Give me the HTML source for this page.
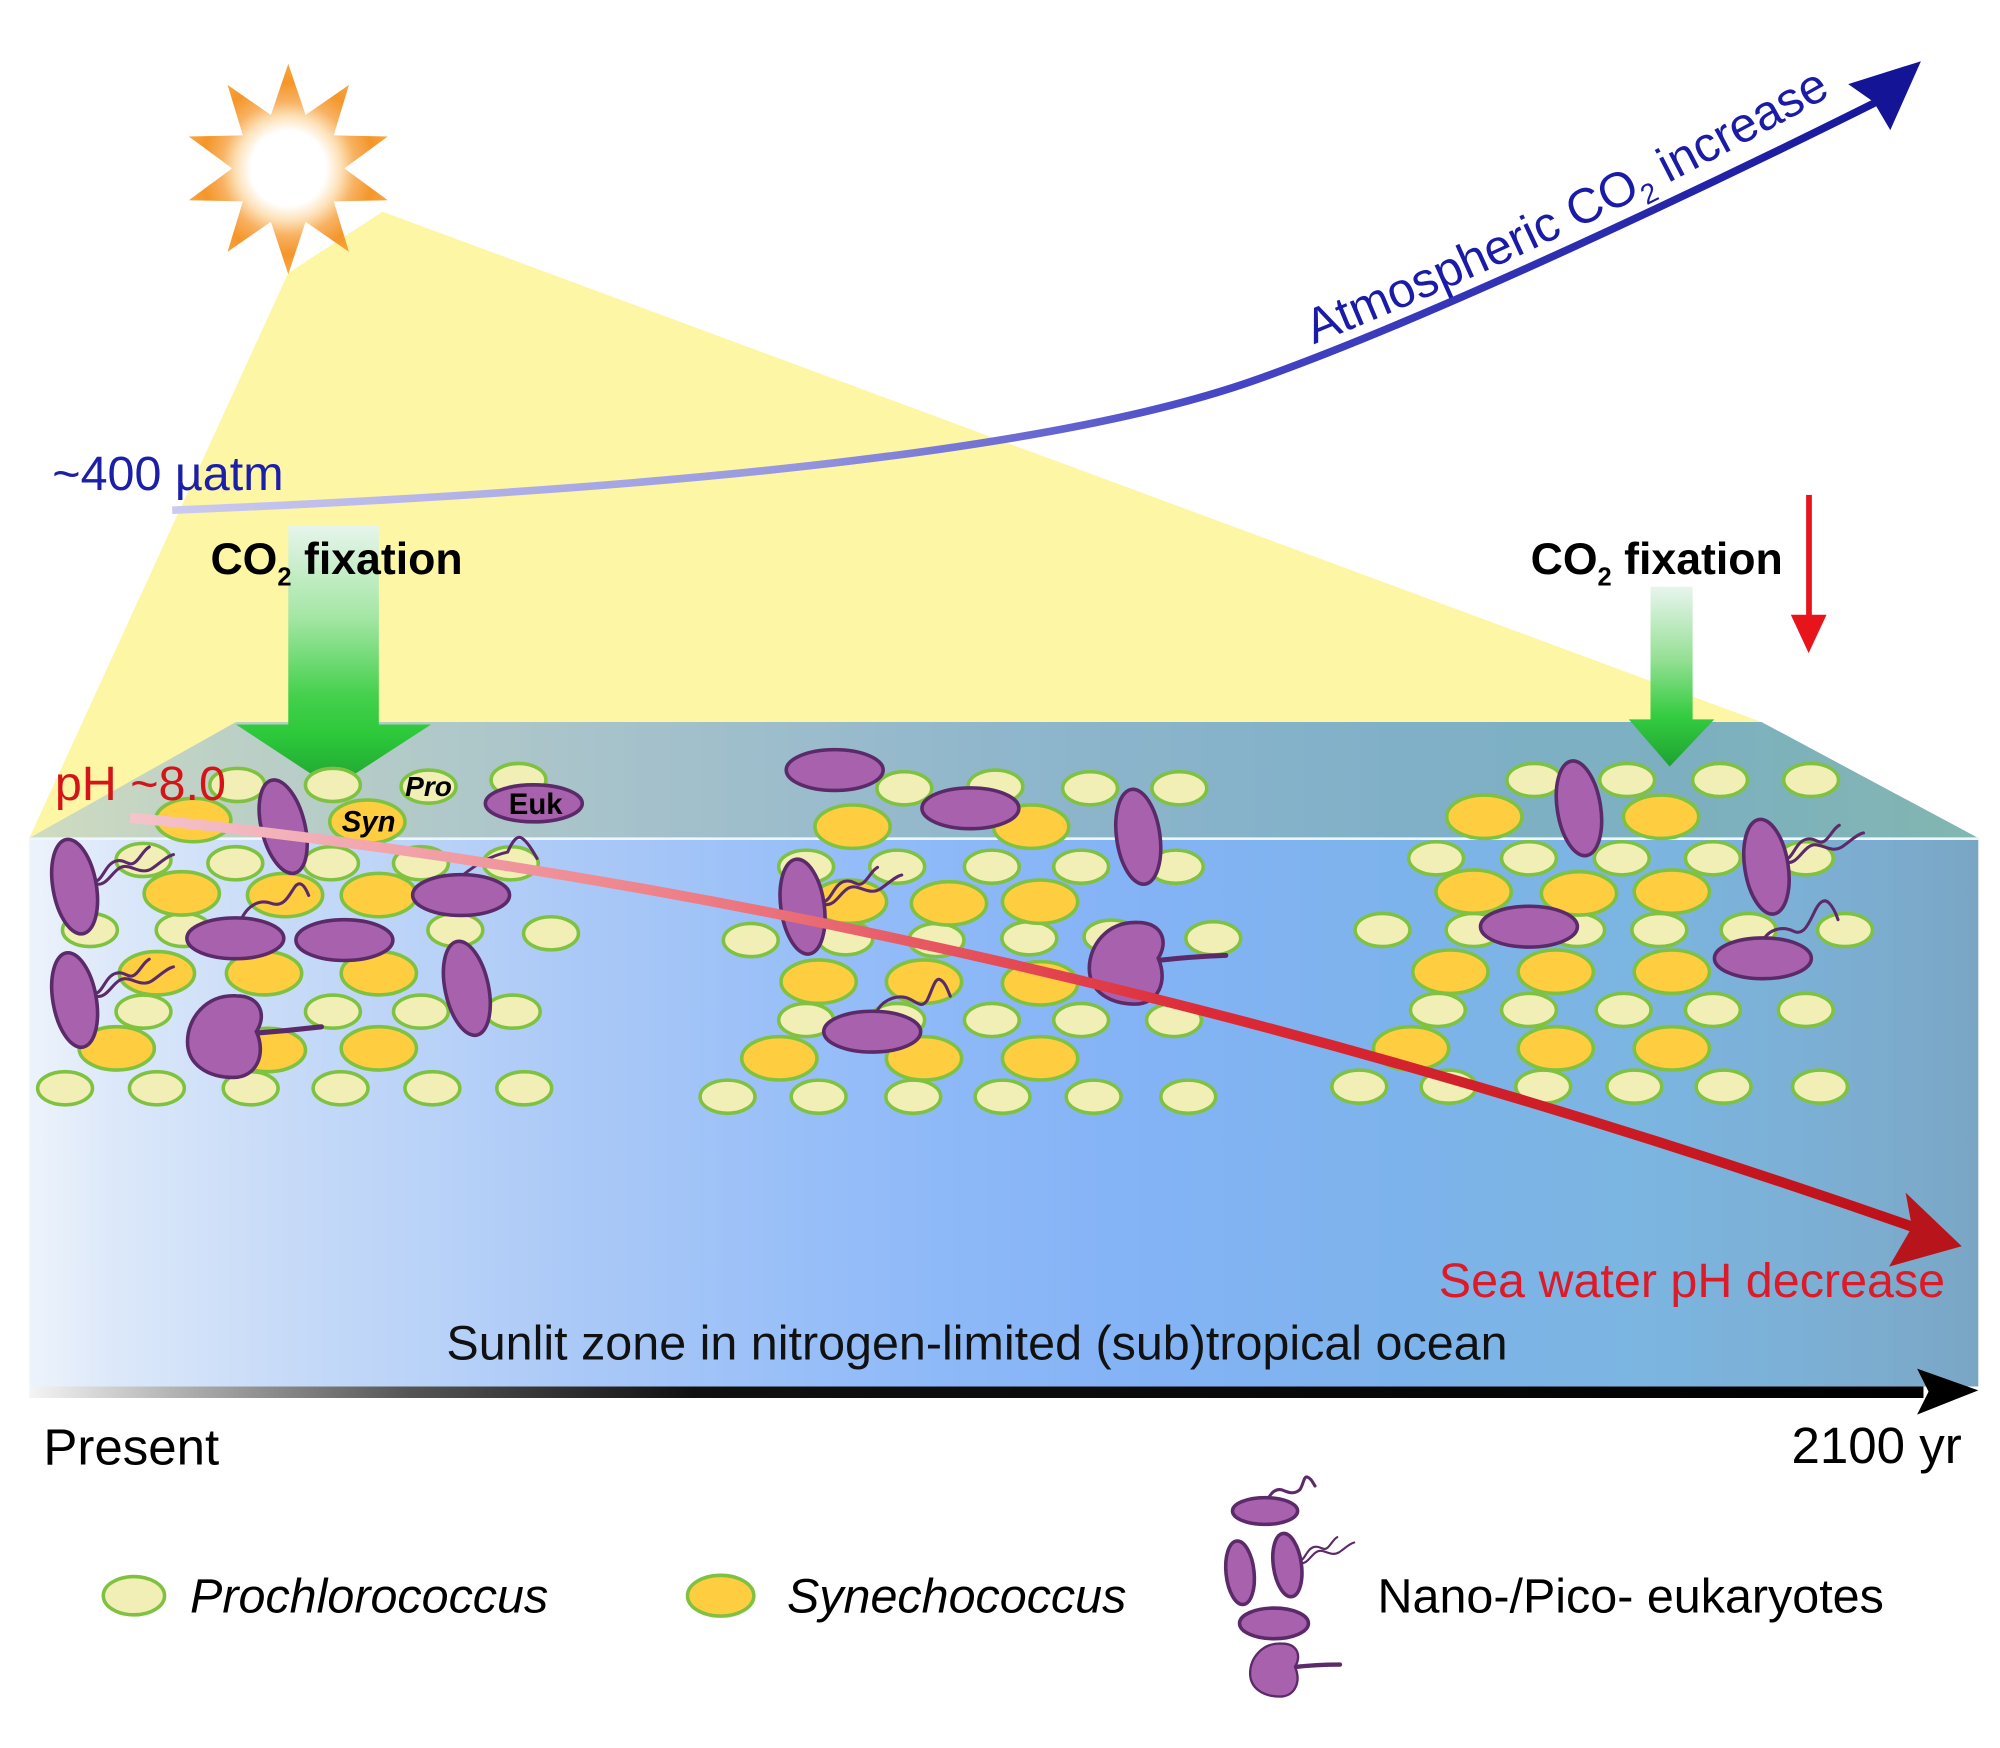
<!DOCTYPE html>
<html><head><meta charset="utf-8"><style>
html,body{margin:0;padding:0;background:#fff;}
svg{display:block;}
text{font-family:"Liberation Sans",Arial,sans-serif;}
.p{fill:#f1eeb6;stroke:#7fc241;stroke-width:2.8}
.s{fill:#fecd40;stroke:#7fc241;stroke-width:2.8}
.e{fill:#a761ad;stroke:#5b2a69;stroke-width:2.8}
.f{fill:none;stroke:#5b2a69;stroke-width:2.4;stroke-linecap:round}
</style></head><body>
<svg width="2000" height="1748" viewBox="0 0 1568 1370.4" preserveAspectRatio="none" xmlns="http://www.w3.org/2000/svg" xmlns:xlink="http://www.w3.org/1999/xlink">
<defs>
<radialGradient id="sun" cx="226" cy="132" r="82" gradientUnits="userSpaceOnUse">
<stop offset="0" stop-color="#ffffff"/><stop offset="0.36" stop-color="#ffffff"/><stop offset="0.5" stop-color="#fde1b8"/><stop offset="0.64" stop-color="#f8b262"/><stop offset="0.82" stop-color="#f4962a"/><stop offset="1" stop-color="#f7a640"/>
</radialGradient>
<linearGradient id="top" x1="23" y1="0" x2="1551" y2="0" gradientUnits="userSpaceOnUse">
<stop offset="0" stop-color="#d0dcc0"/><stop offset="0.1" stop-color="#bcd0c6"/><stop offset="0.3" stop-color="#a6c2cb"/><stop offset="0.5" stop-color="#8fb6cc"/><stop offset="0.7" stop-color="#80b0c8"/><stop offset="0.85" stop-color="#7cb0c0"/><stop offset="1" stop-color="#82b6b0"/>
</linearGradient>
<linearGradient id="front" x1="23" y1="0" x2="1551" y2="0" gradientUnits="userSpaceOnUse">
<stop offset="0" stop-color="#edf3fb"/><stop offset="0.04" stop-color="#dde9fa"/><stop offset="0.12" stop-color="#c9dcf8"/><stop offset="0.29" stop-color="#a9c8f7"/><stop offset="0.45" stop-color="#90baf8"/><stop offset="0.56" stop-color="#84b3f6"/><stop offset="0.7" stop-color="#7db3ec"/><stop offset="0.83" stop-color="#7bb5e0"/><stop offset="0.93" stop-color="#7caed2"/><stop offset="1" stop-color="#7aa6c4"/>
</linearGradient>
<linearGradient id="bar" x1="23" y1="0" x2="1510" y2="0" gradientUnits="userSpaceOnUse">
<stop offset="0" stop-color="#f4f4f4"/><stop offset="0.08" stop-color="#b0b0b0"/><stop offset="0.2" stop-color="#555"/><stop offset="0.35" stop-color="#111"/><stop offset="1" stop-color="#000"/>
</linearGradient>
<linearGradient id="blue" x1="135" y1="0" x2="1500" y2="0" gradientUnits="userSpaceOnUse">
<stop offset="0" stop-color="#cbcaf0"/><stop offset="0.35" stop-color="#9898e0"/><stop offset="0.6" stop-color="#4646c6"/><stop offset="1" stop-color="#14149a"/>
</linearGradient>
<linearGradient id="red" x1="102" y1="641" x2="1500" y2="962" gradientUnits="userSpaceOnUse">
<stop offset="0" stop-color="#f5c4cc"/><stop offset="0.3" stop-color="#ee8088"/><stop offset="0.6" stop-color="#dc2a36"/><stop offset="1" stop-color="#be1018"/>
</linearGradient>
<linearGradient id="g1" x1="0" y1="412" x2="0" y2="618" gradientUnits="userSpaceOnUse">
<stop offset="0" stop-color="#e6f5ec"/><stop offset="0.35" stop-color="#a4e6a4"/><stop offset="0.65" stop-color="#44d04c"/><stop offset="0.8" stop-color="#2cc83a"/><stop offset="1" stop-color="#1ea232"/>
</linearGradient>
<linearGradient id="g2" x1="0" y1="460" x2="0" y2="601" gradientUnits="userSpaceOnUse">
<stop offset="0" stop-color="#e8f5ee"/><stop offset="0.4" stop-color="#96e096"/><stop offset="0.72" stop-color="#34cc40"/><stop offset="1" stop-color="#1ea232"/>
</linearGradient>
<ellipse id="P" rx="21.5" ry="13" class="p"/>
<ellipse id="S" rx="29.5" ry="17" class="s"/>
<ellipse id="EH" rx="38" ry="16" class="e"/>
<ellipse id="EV" rx="17" ry="37.5" class="e"/>
<path id="kid" class="e" d="M24,-4 C32,-16 28,-32 8,-32 C-16,-33 -30,-14 -30,4 C-30,22 -14,32 6,32 C24,32 32,14 24,-4 Z"/>
<g id="fd" class="f">
<path d="M0,0 C6,-2 8,-14 16,-16 C24,-18 26,-10 32,-16 C36,-20 38,-25 42,-27"/>
<path d="M0,2 C8,4 12,-6 18,-10 C26,-16 34,-4 44,-10 C50,-14 56,-20 61,-21"/>
</g>
<path id="tp" d="M1030,270 Q1250,182 1465,58"/>
</defs>

<rect x="0" y="0" width="1568" height="1370.4" fill="#fff"/>

<!-- light wedge -->
<polygon points="226,214 300,166 1381,566 23,657" fill="#fdf6a4"/>

<!-- atmospheric CO2 curve -->
<path d="M135,400 C500,385 820,356 984,298 C1140,243 1395,118 1471,80" fill="none" stroke="url(#blue)" stroke-width="6"/>
<polygon points="1506,48 1449,66 1469,80 1482,102" fill="#141496"/>
<text font-size="38.5" fill="#1a1ca8"><textPath href="#tp" xlink:href="#tp">Atmospheric CO<tspan font-size="22" dy="8">2</tspan><tspan dy="-8"> increase</tspan></textPath></text>
<text x="41" y="384" font-size="38" fill="#1c20a8">~400 µatm</text>

<!-- sun -->
<polygon fill="url(#sun)" points="226,50 239.6,90.2 273.6,66.5 261.6,106.1 304,107 270,132 304,157 261.6,157.9 273.6,197.5 239.6,173.8 226,215 212.4,173.8 178.4,197.5 190.4,157.9 148,157 182,132 148,107 190.4,106.1 178.4,66.5 212.4,90.2"/>

<!-- ocean box -->
<polygon points="185,566 1381,566 1551,657 23,657" fill="url(#top)"/>
<rect x="23" y="657" width="1528" height="430" fill="url(#front)"/>
<line x1="23" y1="657.5" x2="1551" y2="657.5" stroke="#eef6ff" stroke-width="2"/>

<!-- green arrows -->
<rect x="226" y="412" width="71" height="157" fill="url(#g1)"/>
<polygon points="185,568 338,568 261,618" fill="url(#g1)"/>
<rect x="1294" y="460" width="33" height="105" fill="url(#g2)"/>
<polygon points="1277,564 1344,564 1309,601" fill="url(#g2)"/>

<!-- red thin arrow -->
<rect x="1416" y="388" width="4.5" height="97" fill="#e8141c"/>
<polygon points="1404,482 1432,482 1418,512" fill="#e8141c"/>

<!-- cluster 1 Pro -->
<use href="#P" x="186" y="615.4"/><use href="#P" x="261" y="615.4"/><use href="#P" x="336" y="616.7"/><use href="#P" x="406.5" y="611.5"/>
<use href="#P" x="112.5" y="674.2"/><use href="#P" x="184.5" y="676.8"/><use href="#P" x="259.5" y="676.8"/><use href="#P" x="330" y="676.8"/><use href="#P" x="400.5" y="676.8"/>
<use href="#P" x="70.5" y="729.1"/><use href="#P" x="144" y="729.1"/><use href="#P" x="357" y="729.1"/><use href="#P" x="432" y="731.7"/>
<use href="#P" x="112.5" y="793.1"/><use href="#P" x="261" y="793.1"/><use href="#P" x="330" y="793.1"/><use href="#P" x="402" y="793.1"/>
<use href="#P" x="51" y="853.2"/><use href="#P" x="123" y="853.2"/><use href="#P" x="196.5" y="853.2"/><use href="#P" x="267" y="853.2"/><use href="#P" x="339" y="853.2"/><use href="#P" x="411" y="853.2"/>
<!-- cluster 1 Syn -->
<use href="#S" x="151.5" y="642.9"/><use href="#S" x="288" y="644.2"/>
<use href="#S" x="142.5" y="700.4"/><use href="#S" x="223.5" y="701.7"/><use href="#S" x="297" y="701.7"/>
<use href="#S" x="123" y="763"/><use href="#S" x="207" y="763"/><use href="#S" x="297" y="763"/>
<use href="#S" x="91.5" y="821.9"/><use href="#S" x="210" y="823.2"/><use href="#S" x="297" y="821.9"/>
<!-- cluster 1 Euk -->
<use href="#fd" transform="translate(75,691)"/>
<use href="#fd" transform="translate(75,779)"/>
<path class="f" d="M363,686 Q380,672 398,668 Q404,654 409,657 Q414,660 421,673"/>
<path class="f" d="M189,721 C194,710 203,705 212,708 C222,712 226,703 230,697 C234,690 238,692 242,702"/>
<path d="M200,810 Q226,808 252,805" fill="none" stroke="#5b2a69" stroke-width="4" stroke-linecap="round"/>
<use href="#EV" transform="translate(222,648.1) rotate(-14)"/>
<use href="#EV" transform="translate(58.5,695.1) rotate(-10)"/>
<use href="#EV" transform="translate(58.5,784) rotate(-10)"/>
<use href="#EV" transform="translate(366,774.8) rotate(-12)"/>
<ellipse cx="418.5" cy="629.8" rx="38" ry="14.5" class="e"/>
<use href="#EH" x="361.5" y="701.7"/><use href="#EH" x="184.5" y="735.6"/><use href="#EH" x="270" y="737"/>
<use href="#kid" transform="translate(177,812.7)"/>

<!-- cluster 2 Pro -->
<use href="#P" x="709" y="618"/><use href="#P" x="780.4" y="616.7"/><use href="#P" x="854.6" y="618"/><use href="#P" x="924.6" y="618"/>
<use href="#P" x="632" y="679.5"/><use href="#P" x="703.4" y="679.5"/><use href="#P" x="777.6" y="679.5"/><use href="#P" x="847.6" y="679.5"/><use href="#P" x="921.8" y="679.5"/>
<use href="#P" x="588.6" y="737"/><use href="#P" x="662.8" y="735.6"/><use href="#P" x="734.2" y="737"/><use href="#P" x="807" y="735.6"/><use href="#P" x="871.4" y="734.3"/><use href="#P" x="951.2" y="735.6"/>
<use href="#P" x="632" y="799.7"/><use href="#P" x="703.4" y="799.7"/><use href="#P" x="777.6" y="799.7"/><use href="#P" x="847.6" y="799.7"/><use href="#P" x="920.4" y="799.7"/>
<use href="#P" x="570.4" y="859.8"/><use href="#P" x="641.8" y="859.8"/><use href="#P" x="716" y="859.8"/><use href="#P" x="786" y="859.8"/><use href="#P" x="857.4" y="859.8"/><use href="#P" x="931.6" y="859.8"/>
<!-- cluster 2 Syn -->
<use href="#S" x="668.4" y="648.1"/><use href="#S" x="808.4" y="648.1"/>
<use href="#S" x="665.6" y="706.9"/><use href="#S" x="744" y="708.2"/><use href="#S" x="815.4" y="706.9"/>
<use href="#S" x="641.8" y="769.6"/><use href="#S" x="724.4" y="769.6"/><use href="#S" x="815.4" y="770.9"/>
<use href="#S" x="611" y="829.7"/><use href="#S" x="724.4" y="829.7"/><use href="#S" x="815.4" y="829.7"/>
<!-- cluster 2 Euk -->
<use href="#fd" transform="translate(646,707)"/>
<path class="f" d="M687,794 C690,786 700,780 710,782 C718,784 722,792 727,784 C731,776 733,766 737,768 C741,770 743,776 745,781"/>
<path d="M907,753 Q934,750 961,749" fill="none" stroke="#5b2a69" stroke-width="4" stroke-linecap="round"/>
<use href="#EH" x="654.4" y="603.7"/><use href="#EH" x="760.8" y="633.7"/><use href="#EH" x="683.8" y="808.8"/>
<use href="#EV" transform="translate(892.4,656) rotate(-8)"/>
<use href="#EV" transform="translate(629.2,710.8) rotate(-8)"/>
<use href="#kid" transform="translate(884,755.2)"/>

<!-- cluster 3 Pro -->
<use href="#P" x="1202.9" y="611.5"/><use href="#P" x="1275.7" y="611.5"/><use href="#P" x="1348.5" y="611.5"/><use href="#P" x="1419.9" y="611.5"/>
<use href="#P" x="1125.9" y="672.9"/><use href="#P" x="1198.7" y="672.9"/><use href="#P" x="1271.5" y="672.9"/><use href="#P" x="1342.9" y="672.9"/><use href="#P" x="1415.7" y="672.9"/>
<use href="#P" x="1083.9" y="729.1"/><use href="#P" x="1155.3" y="729.1"/><use href="#P" x="1236.5" y="729.1"/><use href="#P" x="1300.9" y="729.1"/><use href="#P" x="1370.9" y="729.1"/><use href="#P" x="1446.5" y="729.1"/>
<use href="#P" x="1127.3" y="791.8"/><use href="#P" x="1198.7" y="791.8"/><use href="#P" x="1272.9" y="791.8"/><use href="#P" x="1342.9" y="791.8"/><use href="#P" x="1415.7" y="791.8"/>
<use href="#P" x="1065.7" y="851.9"/><use href="#P" x="1135.7" y="851.9"/><use href="#P" x="1209.9" y="851.9"/><use href="#P" x="1281.3" y="851.9"/><use href="#P" x="1351.3" y="851.9"/><use href="#P" x="1426.9" y="851.9"/>
<!-- cluster 3 Syn -->
<use href="#S" x="1163.7" y="640.3"/><use href="#S" x="1302.3" y="640.3"/>
<use href="#S" x="1155.3" y="699"/><use href="#S" x="1237.9" y="700.4"/><use href="#S" x="1310.7" y="699"/>
<use href="#S" x="1137.1" y="761.8"/><use href="#S" x="1219.7" y="761.8"/><use href="#S" x="1310.7" y="761.8"/>
<use href="#S" x="1106.3" y="821.9"/><use href="#S" x="1219.7" y="821.9"/><use href="#S" x="1310.7" y="821.9"/>
<!-- cluster 3 Euk -->
<use href="#fd" transform="translate(1400,674)"/>
<path class="f" d="M1383,736 C1388,728 1398,726 1406,730 C1414,734 1418,724 1422,716 C1426,707 1430,704 1434,708 C1438,712 1440,718 1441,721"/>
<use href="#EV" transform="translate(1237.9,633.7) rotate(-9)"/>
<use href="#EV" transform="translate(1384.9,679.5) rotate(-9)"/>
<use href="#EH" x="1198.7" y="726.5"/><use href="#EH" x="1382.1" y="751.3"/>

<!-- small labels -->
<text x="336" y="624" font-size="22" font-weight="bold" font-style="italic" text-anchor="middle" fill="#000">Pro</text>
<text x="289" y="652" font-size="23" font-weight="bold" font-style="italic" text-anchor="middle" fill="#000">Syn</text>
<text x="420" y="638" font-size="23" font-weight="bold" text-anchor="middle" fill="#000">Euk</text>

<!-- pH curve -->
<path d="M102,641 Q771,707 1500,962" fill="none" stroke="url(#red)" stroke-width="8"/>
<polygon points="1538,977 1494,935 1499,962 1481,993" fill="#b8141c"/>

<!-- texts -->
<text x="165" y="450" font-size="35" font-weight="bold" fill="#000">CO<tspan font-size="20" dy="9">2</tspan><tspan dy="-9"> fixation</tspan></text>
<text x="1200" y="450" font-size="35" font-weight="bold" fill="#000">CO<tspan font-size="20" dy="9">2</tspan><tspan dy="-9"> fixation</tspan></text>
<text x="43" y="627" font-size="38" fill="#d41418">pH ~8.0</text>
<text x="1525" y="1017" font-size="38" fill="#dd1a28" text-anchor="end">Sea water pH decrease</text>
<text x="350" y="1066" font-size="38" fill="#111">Sunlit zone in nitrogen-limited (sub)tropical ocean</text>

<!-- time axis -->
<rect x="23" y="1087" width="1485" height="9" fill="url(#bar)"/>
<polygon points="1503,1073 1551,1090 1503,1109 1512,1091" fill="#000"/>
<text x="34" y="1148" font-size="40" fill="#000">Present</text>
<text x="1538" y="1147" font-size="40" fill="#000" text-anchor="end">2100 yr</text>

<!-- legend -->
<ellipse cx="105" cy="1251" rx="24" ry="15" class="p"/>
<text x="149" y="1264" font-size="38" font-style="italic" fill="#000">Prochlorococcus</text>
<ellipse cx="565" cy="1251" rx="26" ry="16" class="s"/>
<text x="617" y="1264" font-size="38" font-style="italic" fill="#000">Synechococcus</text>
<path class="f" d="M994,1175 C997,1170 1000,1167 1005,1168 C1010,1170 1014,1172 1019,1168 C1022,1164 1022,1157 1025,1158 C1028,1159 1029,1162 1031,1165"/>
<ellipse cx="991.8" cy="1184.6" rx="25.5" ry="10.5" class="e"/>
<g transform="translate(1019,1224) scale(0.7)"><use href="#fd"/></g>
<ellipse cx="972.2" cy="1233" rx="11" ry="25" class="e" transform="rotate(-6 972.2 1233)"/>
<ellipse cx="1009.3" cy="1227" rx="11" ry="25" class="e" transform="rotate(-8 1009.3 1227)"/>
<ellipse cx="998.8" cy="1272.7" rx="27" ry="12" class="e"/>
<path d="M1014,1307 Q1032,1305 1050.5,1305" fill="none" stroke="#5b2a69" stroke-width="3.5" stroke-linecap="round"/>
<g transform="translate(999.6,1309.3) scale(0.65)"><use href="#kid"/></g>
<text x="1080" y="1264" font-size="38" fill="#000">Nano-/Pico- eukaryotes</text>
</svg>
</body></html>
